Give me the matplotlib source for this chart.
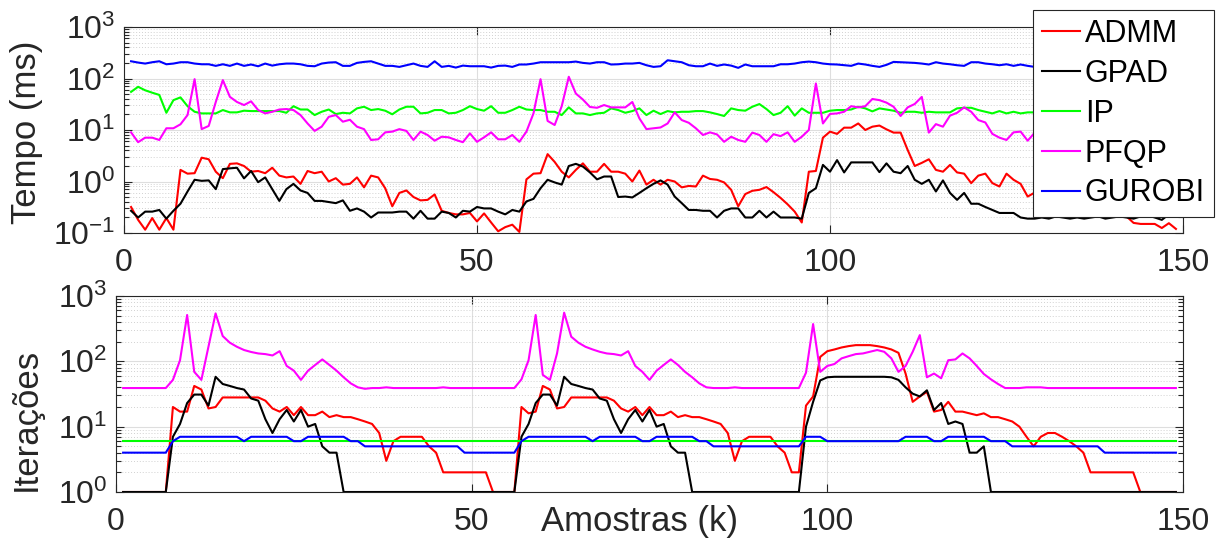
import matplotlib
matplotlib.use('Agg')
import matplotlib.pyplot as plt
from matplotlib.ticker import LogLocator, NullFormatter, NullLocator

plt.rcParams['font.family'] = ['Liberation Sans', 'DejaVu Sans']
plt.rcParams['mathtext.default'] = 'regular'

# amostras k = 1 .. 149
amostras = list(range(1, 150))

# ---- tempo de solução (ms) ----
tempo_admm = [
    0.32, 0.18, 0.116, 0.195, 0.116, 0.195, 0.116, 1.68, 1.42, 1.45,
    2.9, 2.7, 1.55, 1.16, 2.2, 2.25, 2.0, 1.55, 1.6, 1.45,
    1.85, 1.3, 1.2, 1.25, 0.9, 1.6, 1.45, 1.55, 1.0, 1.16,
    0.87, 0.9, 1.2, 0.77, 1.3, 1.2, 0.74, 0.33, 0.6, 0.67,
    0.5, 0.43, 0.44, 0.56, 0.27, 0.245, 0.23, 0.23, 0.245, 0.168,
    0.24, 0.16, 0.108, 0.13, 0.145, 0.105, 1.1, 1.42, 1.45, 3.4,
    2.4, 1.55, 1.2, 1.68, 2.25, 1.55, 1.55, 2.2, 1.55, 1.55,
    1.42, 1.0, 1.63, 0.87, 1.08, 0.87, 1.08, 1.0, 0.77, 0.82,
    0.8, 1.3, 1.12, 1.08, 0.96, 0.69, 0.33, 0.57, 0.66, 0.69,
    0.78, 0.62, 0.48, 0.36, 0.26, 0.16, 1.55, 1.6, 7.1, 9.3,
    8.4, 11.1, 11.1, 13.4, 10.0, 11.6, 12.2, 10.3, 8.9, 8.9,
    4.1, 2.0, 2.3, 2.7, 1.68, 1.55, 2.1, 1.5, 1.42, 0.93,
    1.3, 1.42, 0.93, 0.8, 1.42, 1.08, 0.9, 0.51, 0.61, 0.51,
    0.6, 0.44, 0.38, 0.48, 0.41, 0.36, 0.33, 0.38, 0.3, 0.28,
    0.245, 0.21, 0.157, 0.15, 0.15, 0.15, 0.125, 0.155, 0.12,
]
tempo_gpad = [
    0.27, 0.2, 0.26, 0.26, 0.28, 0.19, 0.27, 0.37, 0.64, 1.08,
    1.03, 1.05, 0.71, 1.74, 1.8, 1.85, 1.15, 1.6, 0.97, 1.2,
    0.71, 0.42, 0.71, 0.9, 0.67, 0.6, 0.42, 0.42, 0.4, 0.38,
    0.43, 0.27, 0.3, 0.26, 0.2, 0.25, 0.25, 0.25, 0.26, 0.26,
    0.19, 0.27, 0.19, 0.19, 0.26, 0.245, 0.2, 0.27, 0.26, 0.32,
    0.3, 0.3, 0.26, 0.23, 0.28, 0.26, 0.41, 0.46, 0.74, 1.08,
    0.96, 0.87, 2.0, 2.2, 1.95, 1.5, 1.1, 1.25, 1.25, 0.5,
    0.51, 0.49, 0.6, 0.74, 0.9, 1.05, 0.87, 0.51, 0.38, 0.28,
    0.28, 0.27, 0.27, 0.2, 0.27, 0.3, 0.3, 0.2, 0.2, 0.27,
    0.2, 0.26, 0.2, 0.2, 0.2, 0.19, 0.6, 0.74, 2.1, 1.55,
    2.6, 1.5, 2.35, 2.35, 2.35, 2.35, 1.52, 2.25, 1.55, 1.45,
    2.0, 1.08, 0.9, 1.08, 0.64, 1.05, 0.6, 0.44, 0.6, 0.37,
    0.37, 0.32, 0.28, 0.245, 0.245, 0.245, 0.2, 0.19, 0.19, 0.2,
    0.19, 0.21, 0.2, 0.19, 0.2, 0.19, 0.2, 0.21, 0.19, 0.2,
    0.21, 0.2, 0.19, 0.21, 0.22, 0.2, 0.18, 0.23, 0.22,
]
tempo_ip = [
    55, 69, 59, 53, 48, 21.6, 38, 43, 29, 22.6,
    21, 21, 21, 24.4, 22, 22, 23.7, 23.3, 23.3, 23.3,
    23.3, 23.3, 21.6, 29, 25, 25, 19.5, 22.6, 25, 20.4,
    21.6, 21, 26.3, 28.3, 24.4, 25.5, 23.7, 20.2, 25, 28.3,
    28.3, 21, 21.6, 24.4, 24.4, 21, 21.6, 24.4, 29, 25.5,
    23.7, 29, 21.6, 21.6, 24.4, 28.3, 25, 24.4, 24.4, 22.6,
    22.6, 19.5, 27.5, 21, 21, 19.5, 21, 21.6, 26.3, 24.4,
    21.6, 23.3, 26.3, 19.5, 23.7, 20.4, 23.3, 22, 22.6, 22.6,
    23.3, 23.3, 22, 20.4, 18.7, 26.3, 24.4, 23.7, 28.3, 31.9,
    25.5, 19.5, 21.6, 29, 19, 26.3, 21.6, 21.6, 21.6, 23.7,
    24.4, 24.4, 25, 28.3, 26.3, 23, 26.3, 25, 23.7, 21.6,
    22.6, 22.6, 21.6, 22.6, 22, 22, 22, 26.3, 27, 27,
    24.4, 22.6, 21, 23.3, 21, 22.6, 21, 22, 22, 23,
    25, 24, 22, 25, 23, 24, 26, 23, 22, 24,
    25, 23, 24, 26, 24, 23, 25, 24, 25,
]
tempo_pfqp = [
    9.0, 5.8, 7.1, 7.1, 6.4, 10.8, 10.8, 12.9, 19.5, 97,
    10.4, 12, 35, 93, 44, 35, 30.5, 36, 24.4, 21,
    22.6, 25, 25.5, 24.4, 19.5, 13.4, 9.6, 11.6, 18, 19.5,
    14.5, 15.8, 11.6, 10.4, 6.4, 6.6, 9.0, 9.3, 10.4, 9.6,
    6.4, 9.3, 8.0, 6.2, 7.4, 7.2, 6.4, 5.8, 8.6, 5.9,
    7.2, 9.0, 6.6, 6.6, 8.0, 5.9, 9.3, 21, 97, 15,
    12.5, 29, 108, 51, 39, 28, 27, 30.5, 27.5, 27.5,
    27.5, 35, 16.8, 10.4, 10.8, 11.2, 13.4, 22, 15.6, 13.8,
    10.8, 8.0, 9.0, 8.2, 5.9, 7.4, 6.4, 5.9, 8.9, 8.0,
    5.9, 8.3, 7.6, 9.0, 5.9, 7.4, 10, 80, 13.4, 20.5,
    21, 22.6, 29, 27.5, 29, 40, 38, 34, 28.3, 18.7,
    27.5, 32, 44, 8.9, 13, 11.6, 19, 21.6, 27.5, 22.6,
    15.6, 14, 8.4, 7.1, 6.4, 9.0, 9.3, 6.2, 8.9, 8,
    7, 6.5, 7.5, 8, 7, 6, 7.5, 8.5, 7, 6.5,
    8, 9, 7.5, 7, 6.5, 8, 7, 6.5, 7,
]
tempo_gurobi = [
    216, 204, 195, 207, 216, 189, 195, 207, 207, 195,
    189, 189, 176, 189, 176, 195, 176, 187, 173, 195,
    178, 189, 195, 195, 189, 176, 173, 195, 204, 207,
    176, 176, 201, 210, 216, 195, 176, 176, 168, 181,
    195, 176, 168, 216, 168, 176, 163, 178, 173, 173,
    173, 163, 176, 178, 168, 187, 187, 195, 207, 207,
    207, 207, 207, 213, 201, 195, 207, 207, 187, 189,
    195, 195, 201, 181, 168, 173, 226, 216, 207, 181,
    173, 173, 195, 176, 187, 178, 161, 187, 173, 173,
    173, 173, 189, 189, 195, 207, 213, 207, 195, 189,
    187, 181, 176, 195, 187, 176, 168, 184, 210, 207,
    204, 201, 195, 187, 207, 195, 189, 181, 176, 207,
    207, 195, 189, 181, 189, 176, 187, 176, 168, 176,
    181, 187, 195, 201, 195, 187, 181, 176, 187, 195,
    189, 181, 176, 168, 176, 187, 195, 189, 181,
]

# ---- número de iterações ----
iter_admm = [
    1, 1, 1, 1, 1, 1, 1, 20, 17, 17,
    42, 37, 19, 20, 28, 28, 28, 28, 28, 28,
    25, 19, 17, 20, 15, 20, 15, 15, 17, 14,
    15, 14, 14, 13, 12, 11, 8, 3, 6, 7,
    7, 7, 7, 5, 4, 2, 2, 2, 2, 2,
    2, 2, 1, 1, 1, 1, 20, 16, 17, 42,
    37, 19, 20, 28, 28, 28, 28, 28, 28, 25,
    19, 17, 20, 15, 20, 15, 15, 17, 14, 15,
    14, 14, 13, 12, 11, 8, 3, 6, 7, 7,
    7, 7, 5, 4, 2, 2, 21, 29, 117, 143,
    152, 163, 171, 177, 177, 177, 171, 163, 152, 135,
    65, 24, 29, 34, 17, 18, 24, 17, 17, 16,
    15, 16, 14, 14, 13, 12, 10, 7, 5, 7,
    8, 8, 7, 6, 5, 4, 2, 2, 2, 2,
    2, 2, 2, 1, 1, 1, 1, 1, 1,
]
iter_gpad = [
    1, 1, 1, 1, 1, 1, 1, 7, 11, 23,
    31, 31, 21, 58, 45, 42, 39, 37, 27, 25,
    13, 8, 13, 18, 12, 18, 10, 11, 5, 4,
    4, 1, 1, 1, 1, 1, 1, 1, 1, 1,
    1, 1, 1, 1, 1, 1, 1, 1, 1, 1,
    1, 1, 1, 1, 1, 1, 7, 11, 23, 31,
    31, 21, 58, 45, 42, 39, 37, 27, 25, 13,
    8, 13, 18, 12, 18, 10, 11, 5, 4, 4,
    1, 1, 1, 1, 1, 1, 1, 1, 1, 1,
    1, 1, 1, 1, 1, 1, 10, 24, 51, 57,
    58, 58, 58, 58, 58, 58, 58, 58, 57, 52,
    40, 32, 29, 36, 18, 23, 11, 12, 11, 4,
    4, 5, 1, 1, 1, 1, 1, 1, 1, 1,
    1, 1, 1, 1, 1, 1, 1, 1, 1, 1,
    1, 1, 1, 1, 1, 1, 1, 1, 1,
]
iter_ip = [
    6, 6, 6, 6, 6, 6, 6, 6, 6, 6,
    6, 6, 6, 6, 6, 6, 6, 6, 6, 6,
    6, 6, 6, 6, 6, 6, 6, 6, 6, 6,
    6, 6, 6, 6, 6, 6, 6, 6, 6, 6,
    6, 6, 6, 6, 6, 6, 6, 6, 6, 6,
    6, 6, 6, 6, 6, 6, 6, 6, 6, 6,
    6, 6, 6, 6, 6, 6, 6, 6, 6, 6,
    6, 6, 6, 6, 6, 6, 6, 6, 6, 6,
    6, 6, 6, 6, 6, 6, 6, 6, 6, 6,
    6, 6, 6, 6, 6, 6, 6, 6, 6, 6,
    6, 6, 6, 6, 6, 6, 6, 6, 6, 6,
    6, 6, 6, 6, 6, 6, 6, 6, 6, 6,
    6, 6, 6, 6, 6, 6, 6, 6, 6, 6,
    6, 6, 6, 6, 6, 6, 6, 6, 6, 6,
    6, 6, 6, 6, 6, 6, 6, 6, 6,
]
iter_pfqp = [
    39, 39, 39, 39, 39, 39, 39, 52, 104, 512,
    69, 52, 167, 542, 244, 193, 167, 149, 139, 132,
    129, 123, 143, 85, 72, 52, 72, 88, 107, 88,
    72, 57, 46, 40, 38, 39, 39, 40, 39, 39,
    39, 39, 39, 39, 39, 40, 39, 39, 39, 39,
    39, 39, 39, 39, 39, 39, 53, 104, 512, 62,
    52, 132, 556, 238, 193, 167, 152, 140, 132, 129,
    123, 143, 85, 69, 52, 72, 88, 107, 88, 69,
    57, 46, 40, 39, 39, 39, 40, 39, 39, 39,
    39, 39, 39, 39, 39, 39, 67, 372, 69, 85,
    91, 111, 120, 129, 132, 140, 149, 140, 111, 69,
    85, 140, 252, 57, 65, 55, 104, 107, 132, 111,
    85, 64, 53, 45, 39, 39, 39, 40, 40, 40,
    39, 39, 39, 39, 39, 39, 39, 39, 39, 39,
    39, 39, 39, 39, 39, 39, 39, 39, 39,
]
iter_gurobi = [
    4, 4, 4, 4, 4, 4, 4, 6, 7, 7,
    7, 7, 7, 7, 7, 7, 7, 6, 7, 7,
    7, 7, 7, 7, 6, 6, 7, 7, 7, 7,
    7, 7, 6, 6, 5, 5, 5, 5, 5, 5,
    5, 5, 5, 5, 5, 5, 5, 5, 4, 4,
    4, 4, 4, 4, 4, 4, 6, 7, 7, 7,
    7, 7, 7, 7, 7, 7, 6, 7, 7, 7,
    7, 7, 7, 6, 6, 7, 7, 7, 7, 7,
    7, 6, 6, 5, 5, 5, 5, 5, 5, 5,
    5, 5, 5, 5, 5, 5, 7, 7, 7, 6,
    6, 6, 6, 6, 6, 6, 6, 6, 6, 6,
    7, 7, 7, 7, 6, 6, 7, 7, 7, 7,
    7, 7, 6, 6, 6, 5, 5, 5, 5, 5,
    5, 5, 5, 5, 5, 5, 5, 5, 4, 4,
    4, 4, 4, 4, 4, 4, 4, 4, 4,
]

nomes = ['ADMM', 'GPAD', 'IP', 'PFQP', 'GUROBI']
cores = ['#ff0000', '#000000', '#00ff00', '#ff00ff', '#0000ff']
xticks = [0, 50, 100, 150]

cinza = (0.15, 0.15, 0.15)
W, H = 1224, 542
fig = plt.figure(figsize=(W / 100, H / 100), dpi=100)
ax1 = fig.add_axes([124 / W, 1 - 233 / H, 1059 / W, 206 / H])
ax2 = fig.add_axes([116 / W, 1 - 492 / H, 1067 / W, 196 / H])

tempos = [tempo_admm, tempo_gpad, tempo_ip, tempo_pfqp, tempo_gurobi]
iters = [iter_admm, iter_gpad, iter_ip, iter_pfqp, iter_gurobi]

for nome, cor, t in zip(nomes, cores, tempos):
    ax1.plot(amostras, t, color=cor, lw=1.5, label=nome)
for cor, it in zip(cores, iters):
    ax2.plot(amostras, it, color=cor, lw=1.5)

ax1.set_ylim(0.1, 1000)
ax2.set_ylim(1, 1000)

for ax in (ax1, ax2):
    ax.set_yscale('log')
    ax.set_xlim(0, 150)
    ax.set_xticks(xticks)
    ax.xaxis.set_minor_locator(NullLocator())
    ax.yaxis.set_major_locator(LogLocator(base=10, numticks=10))
    ax.yaxis.set_minor_locator(LogLocator(base=10, subs=range(2, 10), numticks=20))
    ax.yaxis.set_minor_formatter(NullFormatter())
    ax.set_axisbelow(True)
    ax.grid(True, which='major', color=(0.87, 0.87, 0.87), lw=0.8)
    ax.yaxis.grid(True, which='minor', color=(0.82, 0.82, 0.82), lw=0.7, ls=(0, (1, 2)))
    ax.tick_params(which='both', direction='in', top=True, right=True,
                   color=cinza, width=0.8, labelcolor=cinza, labelsize=23)
    ax.tick_params(which='major', length=6)
    ax.tick_params(which='minor', length=3.5)
    ax.tick_params(axis='x', pad=11)
    ax.tick_params(axis='y', pad=6)
    for s in ax.spines.values():
        s.set_color(cinza)
        s.set_linewidth(0.8)

ax1.set_ylabel('Tempo (ms)', fontsize=25, color=cinza)
ax1.yaxis.label.set_va('center')
ax1.yaxis.set_label_coords(-0.0916, 0.49)

ax2.set_ylabel('Iterações', fontsize=25, color=cinza)
ax2.yaxis.label.set_va('center')
ax2.yaxis.set_label_coords(-0.0843, 0.37)

ax2.set_xlabel('Amostras (k)', fontsize=25, color=cinza)
ax2.xaxis.label.set_va('center')
ax2.xaxis.set_label_coords(0.491, -0.15)

leg = ax1.legend(loc='upper left', bbox_to_anchor=(1033 / W, 1 - 10 / H),
                 bbox_transform=fig.transFigure, fontsize=22, frameon=True,
                 fancybox=False, framealpha=1, edgecolor=cinza,
                 handlelength=1.25, handletextpad=0.15, labelspacing=0.32,
                 borderpad=0.3, borderaxespad=0)
leg.get_frame().set_linewidth(0.8)

fig.savefig('out.png', dpi=100)
